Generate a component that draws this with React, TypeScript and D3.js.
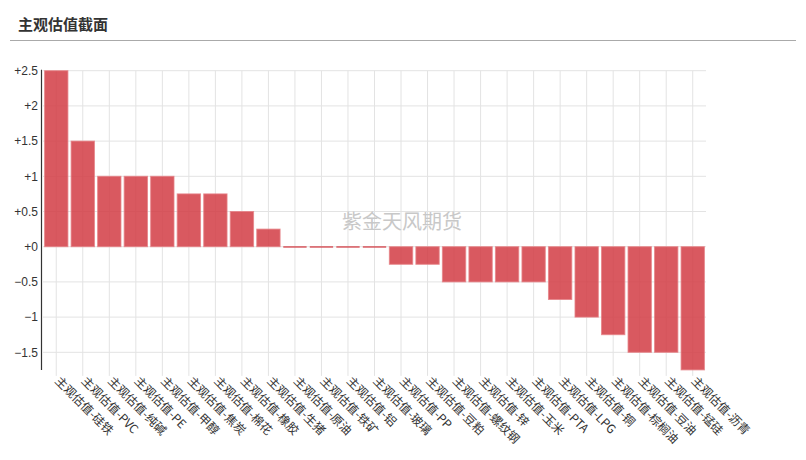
import React from "react";
import * as d3 from "d3";

const categories = ["主观估值-硅铁","主观估值-PVC","主观估值-纯碱","主观估值-PE","主观估值-甲醇","主观估值-焦炭","主观估值-棉花","主观估值-橡胶","主观估值-生猪","主观估值-原油","主观估值-铁矿","主观估值-铝","主观估值-玻璃","主观估值-PP","主观估值-豆粕","主观估值-螺纹钢","主观估值-锌","主观估值-玉米","主观估值-PTA","主观估值-LPG","主观估值-铜","主观估值-棕榈油","主观估值-豆油","主观估值-锰硅","主观估值-沥青"];
const values = [2.5,1.5,1,1,1,0.75,0.75,0.5,0.25,0,0,0,0,-0.25,-0.25,-0.5,-0.5,-0.5,-0.5,-0.75,-1,-1.25,-1.5,-1.5,-1.75];
const yTicks = [2.5,2,1.5,1,0.5,0,-0.5,-1,-1.5];
const title = "主观估值截面";
const watermark = "紫金天风期货";

export default function App() {
  const W = 806, H = 460;
  const left = 43, right = 706, top = 70.7, bottom = 369.9;
  const x = d3.scaleBand<string>().domain(categories).range([left, right]).paddingInner(0.12).paddingOuter(0.06);
  const xc = d3.scalePoint<string>().domain(categories).range([left, right]).padding(0.5);
  const y = d3.scaleLinear().domain([-1.75, 2.5]).range([bottom, top]);
  const fmt = (v: number) => (v >= 0 ? "+" : "") + d3.format("")(v);
  const font = "'Microsoft YaHei', 'Noto Sans CJK SC', Arial, sans-serif";
  return (
    <svg width={W} height={H} style={{ position: "absolute", left: 0, top: 0, fontFamily: font }}>
      <text x={18} y={30} fontSize={15} fontWeight="bold" fill="#333">{title}</text>
      <line x1={10} x2={796} y1={40.5} y2={40.5} stroke="#aaa" strokeWidth={1} />
      {yTicks.map((t) => (
        <line key={"h" + t} x1={left} x2={right} y1={y(t)} y2={y(t)} stroke="#e3e3e3" strokeWidth={1} />
      ))}
      {categories.map((c) => (
        <line key={"v" + c} x1={xc(c)!} x2={xc(c)!} y1={top} y2={bottom + 6} stroke="#e3e3e3" strokeWidth={1} />
      ))}
      <text x={402} y={229} textAnchor="middle" fontSize={20} fill="#c8c8c8">{watermark}</text>
      {categories.map((c, i) => {
        const v = values[i];
        const y0 = y(Math.max(0, v));
        const h = Math.abs(y(v) - y(0));
        if (h === 0) {
          return (
            <rect key={"b" + c} x={x(c)!} y={y(0) - 0.5} width={x.bandwidth()} height={1.5}
              fill="rgba(210,60,68,0.85)" stroke="none" />
          );
        }
        return (
          <rect key={"b" + c} x={x(c)!} y={y0} width={x.bandwidth()} height={h}
            fill="rgba(210,60,68,0.85)" stroke="rgba(230,130,135,0.8)" strokeWidth={1} />
        );
      })}
      <line x1={left - 1.5} x2={left - 1.5} y1={top - 1} y2={bottom} stroke="#333" strokeWidth={1.2} />
      {yTicks.map((t) => (
        <text key={"t" + t} x={left - 5} y={y(t)} dy="0.35em" textAnchor="end" fontSize={12} fill="#333" fontFamily="Arial, 'Liberation Sans', sans-serif">{fmt(t)}</text>
      ))}
      {categories.map((c) => (
        <text key={"l" + c} transform={`translate(${xc(c)! + 1},${bottom + 9}) rotate(45)`} fontSize={12} fill="#333" textAnchor="start" dy="0.35em">{c}</text>
      ))}
    </svg>
  );
}
